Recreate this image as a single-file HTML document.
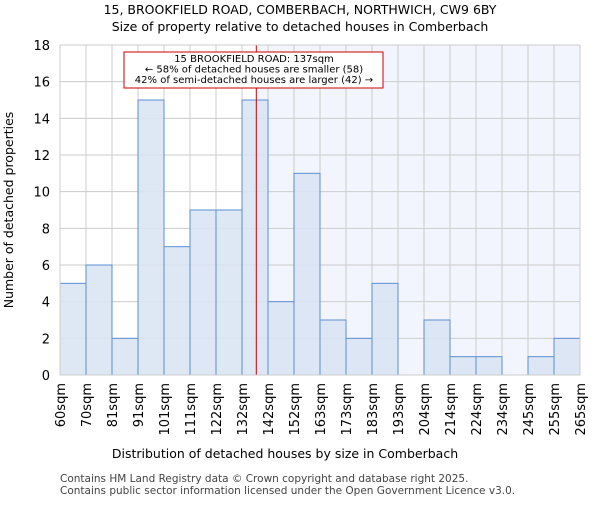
<!DOCTYPE html>
<html><head><meta charset="utf-8"><style>body{margin:0;background:#fff}svg text{font-family:"DejaVu Sans","Liberation Sans",sans-serif}</style></head><body>
<svg id="c" width="600" height="500" xmlns="http://www.w3.org/2000/svg">
<text x="300" y="14" text-anchor="middle" font-size="12.5">15, BROOKFIELD ROAD, COMBERBACH, NORTHWICH, CW9 6BY</text>
<text x="300" y="31" text-anchor="middle" font-size="12.5">Size of property relative to detached houses in Comberbach</text>
<g id="plot"></g>
<text x="285" y="458" text-anchor="middle" font-size="12.5">Distribution of detached houses by size in Comberbach</text>
<text transform="translate(13,210) rotate(-90)" text-anchor="middle" font-size="12.5">Number of detached properties</text>
<text x="60" y="482" font-size="10.5" fill="#444">Contains HM Land Registry data © Crown copyright and database right 2025.</text>
<text x="60" y="494" font-size="10.5" fill="#444">Contains public sector information licensed under the Open Government Licence v3.0.</text>
</svg>
<script>
const categories=["60sqm","70sqm","81sqm","91sqm","101sqm","111sqm","122sqm","132sqm","142sqm","152sqm","163sqm","173sqm","183sqm","193sqm","204sqm","214sqm","224sqm","234sqm","245sqm","255sqm","265sqm"];
const counts=[5,6,2,15,7,9,9,15,4,11,3,2,5,0,3,1,1,0,1,2];
const yTicks=[0,2,4,6,8,10,12,14,16,18];
const markerBin=7.55;
const NS="http://www.w3.org/2000/svg";
const X0=60,X1=580,Y0=375,Y1=45,YMAX=18;
const bw=(X1-X0)/counts.length;
const xs=i=>X0+i*bw, ys=v=>Y0-(Y0-Y1)*v/YMAX;
const g=document.getElementById('plot');
function mk(t,a){const e=document.createElementNS(NS,t);for(const k in a)e.setAttribute(k,a[k]);g.appendChild(e);return e;}
const mx=xs(markerBin);
let e=mk('rect',{x:mx,y:Y1,width:X1-mx,height:Y0-Y1,fill:'#f2f5fd'});


yTicks.forEach(t=>{
 let l=mk('line',{x1:X0,x2:X1,y1:ys(t),y2:ys(t),stroke:'#ccc'});
 
 
 let tx=mk('text',{x:X0-10,y:ys(t)+5,'text-anchor':'end','font-size':'13'});tx.textContent=t;
 
 
});
categories.forEach((c,i)=>{
 let l=mk('line',{x1:xs(i),x2:xs(i),y1:Y1,y2:Y0,stroke:'#ccc'});
 
 
 let tx=mk('text',{x:0,y:0,'text-anchor':'end','font-size':'13',transform:`translate(${xs(i)+5},383) rotate(-90)`});tx.textContent=c;
 
 
});
counts.forEach((v,i)=>{
 if(v<=0)return;
 let r=mk('rect',{x:xs(i),y:ys(v),width:bw,height:Y0-ys(v),fill:'#dae4f3','fill-opacity':0.9,stroke:'#5b8fd3','stroke-width':1});
 
 
});
let ln=mk('line',{x1:mx,x2:mx,y1:Y1,y2:Y0,stroke:'#c00','stroke-width':1});


let bx=mk('rect',{x:124,y:52,width:259,height:36,fill:'#fff',stroke:'#c00'});


["15 BROOKFIELD ROAD: 137sqm","← 58% of detached houses are smaller (58)","42% of semi-detached houses are larger (42) →"].forEach((s,i)=>{
 let t=mk('text',{x:254,y:62+i*10.5,'text-anchor':'middle','font-size':'10'});t.textContent=s;
 
 
});
let ax=mk('rect',{x:X0,y:Y1,width:X1-X0,height:Y0-Y1,fill:'none',stroke:'#ccc'});


</script>
</body></html>
